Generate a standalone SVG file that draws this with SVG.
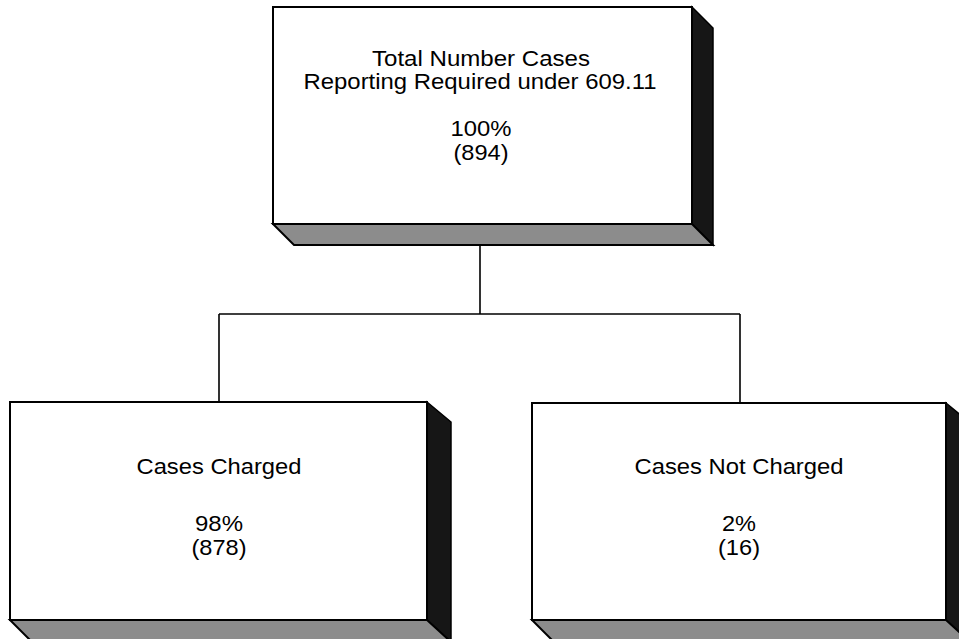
<svg xmlns="http://www.w3.org/2000/svg" width="959" height="639" viewBox="0 0 959 639">
<style>
.front{fill:#ffffff;stroke:#000;stroke-width:2}
.side{fill:#161616;stroke:#000;stroke-width:1.5}
.bottom{fill:#8c8c8c;stroke:#000;stroke-width:2}
.lbl{font-family:"Liberation Sans",Arial,sans-serif;font-size:22px;fill:#000;text-anchor:middle}
.conn{stroke:#000;stroke-width:1.6;fill:none}
</style>
<rect width="959" height="639" fill="#ffffff"/>
<g id="connectors">
<path class="conn" d="M480,246 V314 M219,314 H740 M219,314 V402 M740,314 V403"/>
</g>
<g id="node-total">
<polygon class="side" points="692,7 713,28 713,245 692,224"/>
<polygon class="bottom" points="273,224 692,224 713,245 294,245"/>
<rect class="front" x="273" y="7" width="419" height="217"/>
<text class="lbl" x="481" y="66" textLength="218" lengthAdjust="spacingAndGlyphs">Total Number Cases</text>
<text class="lbl" x="480" y="89" textLength="353" lengthAdjust="spacingAndGlyphs">Reporting Required under 609.11</text>
<text class="lbl" x="481" y="136" textLength="61" lengthAdjust="spacingAndGlyphs">100%</text>
<text class="lbl" x="481" y="160" textLength="55" lengthAdjust="spacingAndGlyphs">(894)</text>
</g>
<g id="node-charged">
<polygon class="side" points="427,402 451,422 451,642 427,620"/>
<polygon class="bottom" points="10,620 427,620 451,642 32,642"/>
<rect class="front" x="10" y="402" width="417" height="218"/>
<text class="lbl" x="219" y="474" textLength="165" lengthAdjust="spacingAndGlyphs">Cases Charged</text>
<text class="lbl" x="219" y="531" textLength="48" lengthAdjust="spacingAndGlyphs">98%</text>
<text class="lbl" x="219" y="555" textLength="55" lengthAdjust="spacingAndGlyphs">(878)</text>
</g>
<g id="node-not-charged">
<polygon class="side" points="946,403 970,423 970,642 946,620"/>
<polygon class="bottom" points="532,620 946,620 970,642 554,642"/>
<rect class="front" x="532" y="403" width="414" height="217"/>
<text class="lbl" x="739" y="474" textLength="209" lengthAdjust="spacingAndGlyphs">Cases Not Charged</text>
<text class="lbl" x="739" y="531" textLength="34" lengthAdjust="spacingAndGlyphs">2%</text>
<text class="lbl" x="739" y="555" textLength="42" lengthAdjust="spacingAndGlyphs">(16)</text>
</g>
</svg>
